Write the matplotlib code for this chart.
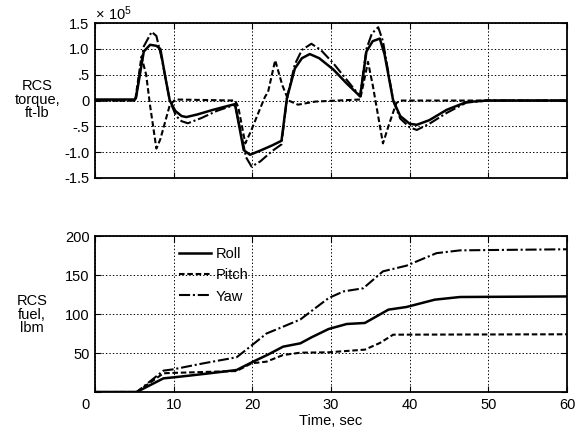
import matplotlib
matplotlib.use("Agg")
import matplotlib.pyplot as plt
import matplotlib.transforms as mtransforms

plt.rcParams["font.family"] = ["Liberation Sans", "DejaVu Sans"]
plt.rcParams["mathtext.default"] = "regular"
plt.rcParams["lines.scale_dashes"] = False

# torque (x 1e5 ft-lb) breakpoints
roll_tq_t = [0, 5.0, 5.2, 6.2, 7.0, 7.8, 8.3, 9.0, 9.5, 10.2, 11.0, 11.6, 13.0, 15.0, 17.0, 17.8,
             18.9, 19.7, 21.0, 22.5, 23.7, 24.4, 25.4, 26.3, 27.3, 28.5, 30.3, 32.0, 33.7,
             34.5, 35.3, 36.2, 36.8, 37.9, 38.8, 40.0, 40.9, 42.5, 44.7, 47.2, 49.8, 60]
roll_tq = [0.02, 0.02, 0.05, 0.95, 1.08, 1.06, 1.0, 0.4, 0.0, -0.2, -0.3, -0.32, -0.27, -0.18, -0.1, -0.07,
           -0.96, -1.05, -0.97, -0.87, -0.78, 0.05, 0.62, 0.82, 0.9, 0.82, 0.6, 0.33, 0.08,
           0.95, 1.15, 1.2, 0.9, 0.0, -0.3, -0.45, -0.47, -0.38, -0.18, -0.03, 0.0, 0.0]

pitch_tq_t = [0, 5.1, 5.9, 6.5, 7.0, 7.8, 8.3, 9.5, 10.2, 17.8, 18.2, 19.1, 19.8, 21.0, 21.6, 22.0,
              22.9, 23.8, 24.6, 25.8, 28.0, 33.7, 34.7, 35.3, 36.6, 37.4, 38.3, 38.8, 60]
pitch_tq = [0.0, 0.0, 0.85, 0.5, -0.1, -0.93, -0.75, -0.09, 0.02, 0.0, -0.12, -0.83, -0.6, -0.15, 0.07, 0.17,
            0.78, 0.3, 0.0, -0.08, -0.02, 0.02, 0.75, 0.3, -0.83, -0.45, -0.05, 0.0, 0.0]

yaw_tq_t = [0, 5.0, 5.2, 6.2, 7.2, 7.8, 8.5, 9.5, 10.3, 11.0, 11.8, 13.5, 15.5, 17.8, 19.2, 19.9,
            21.0, 22.5, 23.7, 24.4, 25.4, 26.3, 27.5, 28.7, 30.3, 32.0, 33.7, 34.5, 35.2, 36.0,
            36.6, 37.9, 38.8, 40.0, 40.9, 42.5, 44.7, 47.2, 50.0, 60]
yaw_tq = [0.0, 0.0, 0.05, 1.05, 1.33, 1.25, 0.8, 0.0, -0.3, -0.4, -0.44, -0.34, -0.2, -0.08, -1.1, -1.28,
          -1.18, -0.98, -0.85, 0.05, 0.7, 0.98, 1.1, 0.98, 0.72, 0.4, 0.08, 1.0, 1.3, 1.42,
          1.15, 0.0, -0.35, -0.52, -0.57, -0.45, -0.24, -0.04, 0.0, 0.0]

# fuel (lbm)
roll_fuel_t = [0, 5.3, 8.7, 9.9, 12, 15, 18.0, 20.1, 22, 23.9, 26.1, 27.5, 29.7, 32, 34.3, 37.3,
               39.6, 43.2, 46.4, 50, 60]
roll_fuel = [0, 0, 17.5, 18.7, 21, 24.5, 28.2, 38.9, 48, 58.1, 62.4, 70, 80.8, 87.2, 88.5, 105.6,
             109, 118.4, 121.8, 122, 122.5]

pitch_fuel_t = [0, 5.3, 8.7, 9.9, 11.7, 15, 18, 19.9, 21.8, 23.9, 26.1, 29.7, 34.3, 36.2, 37.9, 60]
pitch_fuel = [0, 0, 24, 24.5, 25, 26, 26.9, 36.8, 38.9, 47.4, 50.4, 50.9, 54.3, 62.8, 73.5, 74]

yaw_fuel_t = [0, 5.3, 8.7, 9.9, 13.8, 18, 19.7, 21.8, 23.9, 26.1, 29.7, 31.6, 34.1, 36.6, 39.6,
              43.4, 46.4, 50, 60]
yaw_fuel = [0, 0, 27.4, 29, 36.8, 44.5, 58, 75, 83.7, 93, 120.5, 129, 133, 154.7, 162,
            178, 181.6, 182, 183]

x_ticks = [0, 10, 20, 30, 40, 50, 60]
tq_ticks = [-1.5, -1.0, -0.5, 0, 0.5, 1.0, 1.5]
tq_labels = ["-1.5", "-1.0", "-.5", "0", ".5", "1.0", "1.5"]
fuel_ticks = [0, 50, 100, 150, 200]
fuel_labels = ["", "50", "100", "150", "200"]

solid = "-"
dashed = (0, (4, 2))
dashdot = (0, (8, 2, 1.5, 2))
fs = 10.5

fig = plt.figure(figsize=(5.83, 4.40), dpi=100)
ax1 = fig.add_axes([0.163, 0.5955, 0.8096, 0.352])
ax2 = fig.add_axes([0.163, 0.1091, 0.8096, 0.3545])

for ax in (ax1, ax2):
    ax.set_xlim(0, 60)
    ax.set_xticks(x_ticks)
    ax.grid(True, linestyle=(0, (1, 1.5)), color="black", linewidth=0.7)
    ax.tick_params(direction="in", top=True, right=True, length=4, labelsize=fs, pad=4)
    for s in ax.spines.values():
        s.set_linewidth(1.3)

ax1.plot(roll_tq_t, roll_tq, color="black", linestyle=solid, linewidth=1.8)
ax1.plot(pitch_tq_t, pitch_tq, color="black", linestyle=dashed, linewidth=1.5)
ax1.plot(yaw_tq_t, yaw_tq, color="black", linestyle=dashdot, linewidth=1.5)
ax1.set_ylim(-1.5, 1.5)
ax1.set_yticks(tq_ticks)
ax1.set_yticklabels(tq_labels)
ax1.set_xticklabels([])
ax1.text(0.0, 1.0, r"$\times\ 10^5$", transform=ax1.transAxes, ha="left", va="bottom", fontsize=fs)
fig.text(0.064, 0.773, "RCS\ntorque,\nft-lb", ha="center", va="center", fontsize=fs, linespacing=0.95)

ax2.plot(roll_fuel_t, roll_fuel, color="black", linestyle=solid, linewidth=1.8, label="Roll")
ax2.plot(pitch_fuel_t, pitch_fuel, color="black", linestyle=dashed, linewidth=1.5, label="Pitch")
ax2.plot(yaw_fuel_t, yaw_fuel, color="black", linestyle=dashdot, linewidth=1.5, label="Yaw")
ax2.set_ylim(0, 200)
ax2.set_yticks(fuel_ticks)
ax2.set_yticklabels(fuel_labels)
ax2.set_xticklabels([str(v) for v in x_ticks])
ax2.set_xlabel("Time, sec", fontsize=fs, labelpad=2)
fig.text(0.055, 0.285, "RCS\nfuel,\nlbm", ha="center", va="center", fontsize=fs, linespacing=0.95)
# the "0" label sits a little left of the axis in the original
lab0 = ax2.get_xticklabels()[0]
lab0.set_transform(lab0.get_transform() + mtransforms.ScaledTranslation(-10 / 100, 0, fig.dpi_scale_trans))

ax2.legend(loc="upper left", bbox_to_anchor=(0.155, 1.0), frameon=False, fontsize=fs,
           handlelength=2.2, handletextpad=0.3, labelspacing=0.5, borderaxespad=0.35)

fig.savefig("out.png", dpi=100)
